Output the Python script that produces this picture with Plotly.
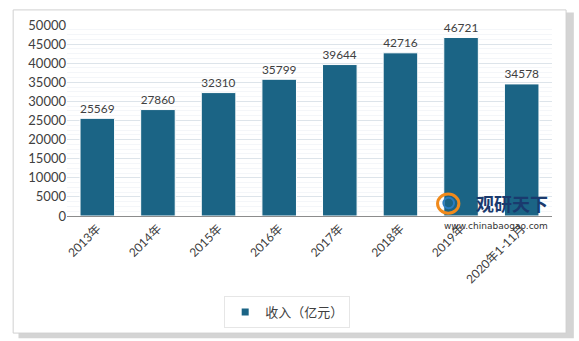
import plotly.graph_objects as go

categories = ["2013年", "2014年", "2015年", "2016年", "2017年", "2018年", "2019年", "2020年1-11月"]
revenue = [25569, 27860, 32310, 35799, 39644, 42716, 46721, 34578]
series_name = "收入（亿元）"
y_ticks = [0, 5000, 10000, 15000, 20000, 25000, 30000, 35000, 40000, 45000, 50000]

FONT = "Lato, Noto Sans CJK SC, sans-serif"
BAR = "#1b6485"

fig = go.Figure()
fig.add_trace(go.Bar(
    x=categories, y=revenue, name=series_name, showlegend=False,
    marker=dict(color=BAR, line=dict(color="white", width=1)),
    width=0.57,
    text=[str(v) for v in revenue], textposition="outside",
    textfont=dict(size=13, color="#404040", family=FONT),
    cliponaxis=False,
))
# legend entry with a small square symbol
fig.add_trace(go.Scatter(
    x=[None], y=[None], mode="markers", name=series_name,
    marker=dict(symbol="square", size=7, color=BAR), showlegend=True,
))

fig.update_layout(
    width=579, height=341,
    margin=dict(l=67, r=27, t=25, b=125),
    paper_bgcolor="white",
    plot_bgcolor="#e9eef3",
    font=dict(family=FONT, size=12, color="#404040"),
    showlegend=True,
    legend=dict(orientation="h", x=0.454, y=-0.503, xanchor="center", yanchor="middle",
                font=dict(size=13, family="Noto Sans CJK SC", color="#404040"),
                bgcolor="white", bordercolor="#e6e6e6", borderwidth=1,
                itemwidth=30, itemsizing="trace"),
    xaxis=dict(tickangle=-45, showgrid=False, showline=True, linecolor="#8c8c8c",
               tickfont=dict(size=12, family=FONT, color="#404040"), ticks=""),
    yaxis=dict(range=[0, 50000], tickvals=y_ticks, ticktext=[str(v) for v in y_ticks],
               showgrid=True, gridcolor="#dde4ea",
               gridwidth=1, zeroline=False, ticks="", showline=False,
               tickfont=dict(size=13, family=FONT, color="#404040"),
               minor=dict(showgrid=True, dtick=1250, gridcolor="#f4f6f9", gridwidth=1)),
)

# frame shadow and frame
fig.add_shape(type="rect", xref="paper", yref="paper", x0=-0.100, x1=1.045, y0=-0.640, y1=1.065,
              line=dict(width=0), fillcolor="#d4d4d4", layer="below")
fig.add_shape(type="rect", xref="paper", yref="paper", x0=-0.111, x1=1.029, y0=-0.613, y1=1.079,
              line=dict(color="#d0d0d0", width=1), fillcolor="white", layer="below")

# watermark
fig.add_shape(type="circle", xref="paper", yref="paper", x0=0.764, x1=0.808, y0=0.015, y1=0.115,
              line=dict(color="#f08a1c", width=3), fillcolor="rgba(0,0,0,0)")
fig.add_shape(type="circle", xref="paper", yref="paper", x0=0.776, x1=0.798, y0=0.04, y1=0.095,
              line=dict(color="#2a7bbf", width=2), fillcolor="rgba(0,0,0,0)")
fig.add_annotation(xref="paper", yref="paper", x=0.995, y=-0.01, xanchor="right", yanchor="bottom",
                   text="<b>观研天下</b>", showarrow=False,
                   font=dict(size=18, color="#1a3a6e", family="Noto Sans CJK SC"))
fig.add_annotation(xref="paper", yref="paper", x=0.995, y=-0.015, xanchor="right", yanchor="top",
                   text="www.chinabaogao.com", showarrow=False,
                   font=dict(size=9, color="#333333", family="DejaVu Sans"))

fig.write_html("out.html")
